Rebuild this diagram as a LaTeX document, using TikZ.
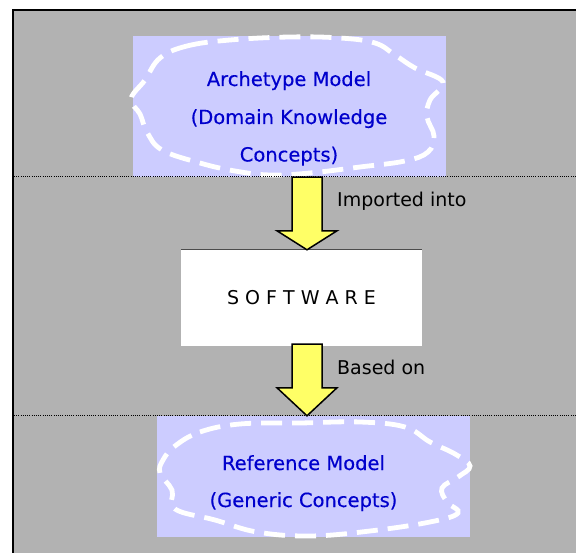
\documentclass[tikz,border=0pt]{standalone}
\usepackage{fontspec}
\setmainfont{DejaVu Sans}
\newfontfamily\modelfont[FakeBold=0.35]{DejaVu Sans}
\usetikzlibrary{calc}
\definecolor{panelgray}{RGB}{178,178,178}
\definecolor{lavender}{RGB}{204,204,255}
\definecolor{modelblue}{RGB}{0,0,204}
\definecolor{arrowyellow}{RGB}{255,255,102}
\begin{document}
\begin{tikzpicture}[x=1pt,y=-1pt,
  modeltext/.style={text=modelblue,font=\modelfont\fontsize{19.5}{24}\selectfont,anchor=base,inner sep=0pt},
  labeltext/.style={text=black,font=\fontsize{19}{23}\selectfont,anchor=base west,inner sep=0pt},
  modelbox/.style={fill=lavender,draw=none,inner sep=0pt},
  cloud/.style={draw=white,line width=4.8pt,dash pattern=on 21pt off 10pt},
  divider/.style={draw=black,line width=1pt,dash pattern=on 1pt off 1.2pt},
  fatarrow/.style={fill=arrowyellow,draw=black,line width=1.5pt,line join=miter}]

\useasboundingbox (0,0) rectangle (576,553);
\clip (0,0) rectangle (576,553);
\fill[white] (0,0) rectangle (576,553);

% grey panel with its framed top and left edges
\fill[panelgray] (12,9) rectangle (590,570);
\draw[black,line width=2pt] (13,570) -- (13,10) -- (590,10);

% the three boxes
\node[modelbox,minimum width=313pt,minimum height=141pt] (arch) at (289.5,106.5) {};
\node[fill=white,inner sep=0pt,minimum width=241pt,minimum height=96pt,
      font=\fontsize{19}{23}\selectfont] (soft) at (301.5,298) {S O F T W A R E};
\draw[gray!60!black,line width=0.6pt] (soft.north west) -- (soft.north east);
\node[modelbox,minimum width=313pt,minimum height=121pt] (ref) at (313.5,476.5) {};

% dashed white outlines around the model texts
\draw[cloud] plot[smooth cycle,tension=0.65] coordinates {
  (160,58) (187,46) (230,40) (290,37) (340,38) (375,43) (395,55) (415,68)
  (443,82) (430,100) (427,117) (434,136) (428,152) (405,161) (360,167)
  (310,173) (270,175) (235,171) (200,163) (162,150) (147,132) (140,114)
  (131,99) (145,80)};
\draw[cloud] plot[smooth cycle,tension=0.65] coordinates {
  (175,446) (200,432) (240,424) (300,423) (360,422) (405,427) (430,442)
  (455,454) (470,466) (458,477) (442,488) (447,502) (458,513) (430,522)
  (370,531) (310,536) (257,532) (215,520) (175,509) (172,490) (160,473)
  (163,460)};

% model texts
\node[modeltext] (arch1) at (289,86) {Archetype Model};
\node[modeltext] (arch2) at (289,124) {(Domain Knowledge};
\node[modeltext] (arch3) at (289,161.5) {Concepts)};
\node[modeltext] (ref1) at (303.5,470) {Reference Model};
\node[modeltext] (ref2) at (303.5,507) {(Generic Concepts)};

% dotted dividers
\draw[divider] (14,177) -- (576,177);
\draw[divider] (14,416) -- (576,416);

% block arrows
\coordinate (axis) at (307,0);
\draw[fatarrow] let \p1=(arch.south -| axis), \p2=(soft.north -| axis) in
  (\x1-15pt,\y1) -- (\x2-15pt,\y2+19pt) -- (\x2-30pt,\y2+19pt) -- (\p2)
  -- (\x2+30pt,\y2+19pt) -- (\x2+15pt,\y2+19pt) -- (\x1+15pt,\y1) -- cycle;
\draw[fatarrow] let \p1=(soft.south -| axis), \p2=(ref.north -| axis) in
  (\x1-15pt,\y1+2pt) -- (\x2-15pt,\y2+28pt) -- (\x2-30pt,\y2+28pt) -- (\p2)
  -- (\x2+30pt,\y2+28pt) -- (\x2+15pt,\y2+28pt) -- (\x1+15pt,\y1+2pt) -- cycle;

% arrow labels
\node[labeltext] (imp) at (337,207) {Imported into};
\node[labeltext] (based) at (337,375) {Based on};
\end{tikzpicture}
\end{document}
